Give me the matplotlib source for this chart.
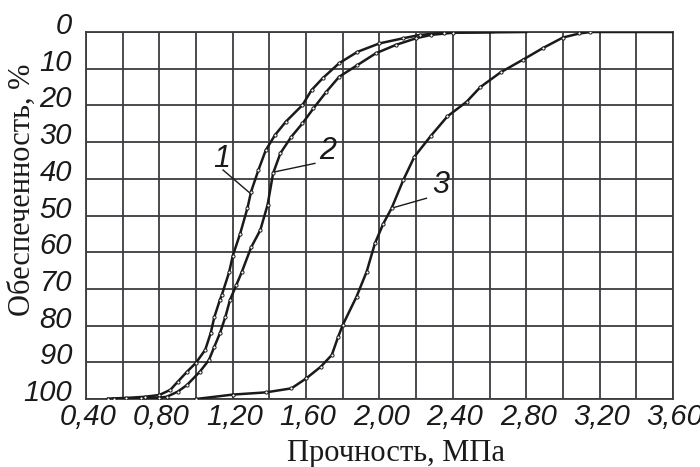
import matplotlib
matplotlib.use("Agg")
from matplotlib import pyplot as plt
from matplotlib import transforms
import numpy as np

# кривая 1
x1 = [0.52, 0.62, 0.72, 0.80, 0.86, 0.90, 0.95, 1.00, 1.05, 1.08, 1.10, 1.13, 1.14,
      1.18, 1.20, 1.24, 1.28, 1.30, 1.34, 1.38, 1.43, 1.49, 1.58, 1.63, 1.69, 1.78,
      1.88, 2.00, 2.13, 2.22, 2.35, 2.62]
y1 = [99.9, 99.7, 99.4, 98.9, 97.5, 95.3, 92.6, 90.1, 86.6, 82.0, 77.6, 73.0, 71.7,
      65.5, 61.0, 55.0, 48.0, 43.5, 37.6, 32.2, 28.1, 24.4, 19.9, 15.8, 12.6, 8.5,
      5.4, 3.1, 1.7, 0.8, 0.2, 0.0]

# кривая 2
x2 = [0.55, 0.70, 0.80, 0.84, 0.90, 0.95, 1.02, 1.07, 1.10, 1.13, 1.16, 1.185, 1.22,
      1.25, 1.30, 1.35, 1.39, 1.42, 1.46, 1.52, 1.58, 1.64, 1.71, 1.78, 1.88, 1.98,
      2.09, 2.20, 2.28, 2.40, 2.80]
y2 = [99.9, 99.8, 99.6, 99.4, 98.0, 96.2, 92.6, 89.4, 85.7, 82.1, 77.6, 73.0, 68.9,
      65.3, 58.7, 54.0, 47.1, 38.5, 33.0, 28.5, 24.9, 20.8, 16.3, 12.2, 9.0, 5.8,
      3.5, 1.7, 0.8, 0.2, 0.0]

# кривая 3
x3 = [1.00, 1.20, 1.38, 1.52, 1.60, 1.68, 1.74, 1.775, 1.80, 1.875, 1.93, 1.975, 2.02,
      2.066, 2.13, 2.19, 2.28, 2.37, 2.475, 2.55, 2.66, 2.78, 2.89, 3.00, 3.09, 3.15,
      3.60]
y3 = [100.0, 98.8, 98.2, 97.1, 94.4, 91.2, 88.0, 83.0, 79.8, 72.1, 65.3, 57.6, 52.3,
      48.0, 40.3, 34.0, 28.3, 23.0, 19.0, 15.0, 11.0, 7.6, 4.4, 1.5, 0.4, 0.0, 0.0]

xticks = [0.4, 0.8, 1.2, 1.6, 2.0, 2.4, 2.8, 3.2, 3.6]
xlabels = ["0,40", "0,80", "1,20", "1,60", "2,00", "2,40", "2,80", "3,20", "3,60"]
yticks = [0, 10, 20, 30, 40, 50, 60, 70, 80, 90, 100]

ink = "#1a1a1a"
gridc = "#3a3d40"

fig = plt.figure(figsize=(7, 4.67), dpi=100)
ax = fig.add_axes([86/700, 1-399/467, 587/700, 367/467])

ax.set_xlim(0.4, 3.6)
ax.set_ylim(100, 0)
ax.set_xticks(xticks)
ax.set_xticks(np.arange(0.4, 3.61, 0.2), minor=True)
ax.set_yticks(yticks)
ax.grid(True, which="both", color=gridc, lw=1.3)
ax.set_axisbelow(True)
for s in ax.spines.values():
    s.set_color(gridc)
    s.set_linewidth(1.3)
ax.tick_params(which="both", length=0)
ax.tick_params(axis="x", pad=3)
ax.tick_params(axis="y", pad=10)

tfont = dict(family="Liberation Sans", style="italic", size=21, color=ink)
ax.set_xticklabels(xlabels, **tfont)
ax.set_yticklabels([str(v) for v in yticks], **tfont)
up = transforms.ScaledTranslation(0, 0.09, fig.dpi_scale_trans)
for lab in ax.get_yticklabels():
    lab.set_transform(lab.get_transform() + up)
right = transforms.ScaledTranslation(0.02, 0, fig.dpi_scale_trans)
for lab in ax.get_xticklabels():
    lab.set_transform(lab.get_transform() + right)

for xs, ys in [(x1, y1), (x2, y2), (x3, y3)]:
    ax.plot(xs, ys, color=ink, lw=1.8, zorder=3)
    ax.plot(xs[:-1], ys[:-1], "o", ms=2.3, mfc="white", mec=ink, mew=0.7, zorder=4)

# подписи кривых
lfont = dict(family="Liberation Sans", style="italic", size=22, color=ink,
             ha="center", va="center")
ax.text(1.141, 34.5, "1", **lfont)
ax.plot([1.147, 1.294], [37.6, 43.9], color=ink, lw=1.0)
ax.text(1.716, 32.5, "2", **lfont)
ax.plot([1.648, 1.43], [35.8, 38.1], color=ink, lw=1.0)
ax.text(2.332, 41.8, "3", **lfont)
ax.plot([2.256, 2.066], [45.3, 48.0], color=ink, lw=1.0)

fig.text(396/700, 0.013, "Прочность, МПа", family="Liberation Serif", size=22,
         color=ink, ha="center", va="baseline")
fig.text(22/700, 1-190/467, "Обеспеченность, %", family="Liberation Serif", size=22,
         color=ink, ha="center", va="center", rotation=90)

fig.savefig("out.png", dpi=100)
